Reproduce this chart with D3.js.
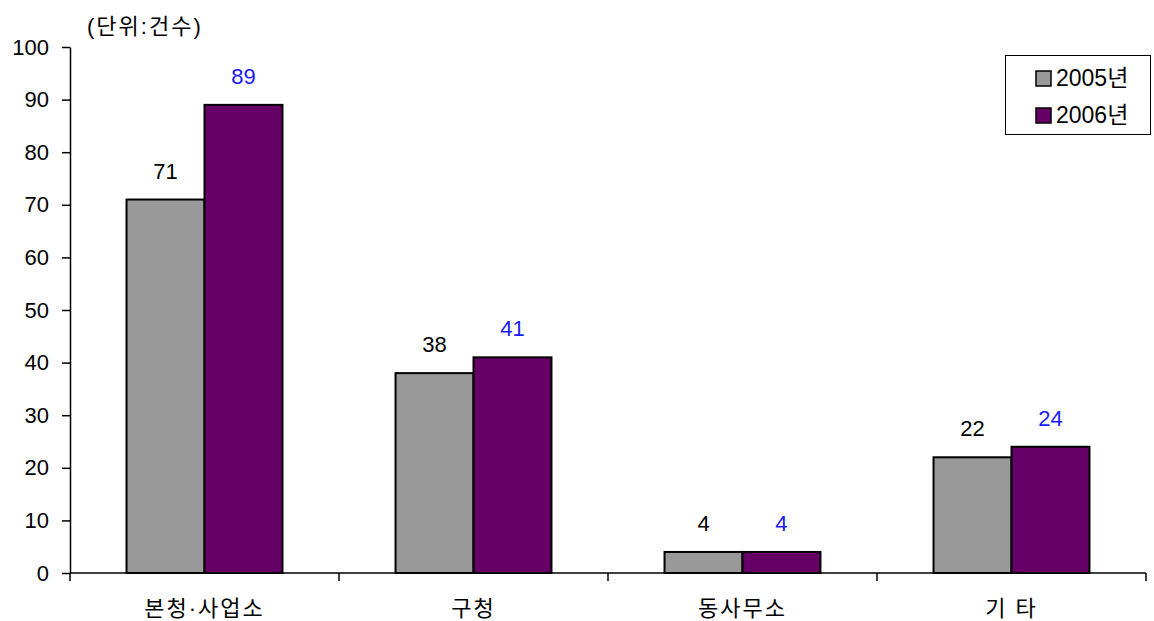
<!DOCTYPE html>
<html>
<head>
<meta charset="utf-8">
<script src="https://cdn.jsdelivr.net/npm/d3@7"></script>
<style>
  body { margin: 0; background: #fff; }
  svg { display: block; font-family: "Liberation Sans", Arial, "Noto Sans CJK KR", sans-serif; }
</style>
</head>
<body>
<svg id="chart" width="1154" height="621"></svg>
<script>
// Complaint counts by office, 2005 vs 2006
const categories = ["본청·사업소", "구청", "동사무소", "기 타"];
const series2005 = [71, 38, 4, 22];
const series2006 = [89, 41, 4, 24];
const seriesNames = ["2005년", "2006년"];
const yTicks = [0, 10, 20, 30, 40, 50, 60, 70, 80, 90, 100];

const colors = ["#999999", "#660066"];
const labelColors = ["#000000", "#1a1aff"];

const svg = d3.select("#chart");
const plotLeft = 70, plotRight = 1146, plotTop = 47, plotBottom = 573;

const x = d3.scaleBand().domain(categories).range([plotLeft, plotRight]).paddingInner(0).paddingOuter(0);
const x1 = d3.scaleBand().domain([0, 1]).range([0, x.bandwidth()]).paddingOuter(0.725).paddingInner(0);
const y = d3.scaleLinear().domain([0, 100]).range([plotBottom, plotTop]);

// Latin glyphs (digits, middle dot) from Liberation, Hangul falls through to Noto CJK
const fontMixed = '"Liberation Sans", Arial, "Noto Sans CJK KR", sans-serif';
const fontLatin = '"Liberation Sans", Arial, sans-serif';

// Y axis
const yAxis = svg.append("g").attr("transform", `translate(${plotLeft},0)`)
  .call(d3.axisLeft(y).tickValues(yTicks).tickSize(8).tickPadding(13).tickSizeOuter(0));
yAxis.select(".domain").attr("stroke", "#000").attr("stroke-width", 1.5);
yAxis.selectAll(".tick line").attr("stroke", "#000").attr("stroke-width", 1.5);
yAxis.selectAll(".tick text").attr("font-size", 22).attr("fill", "#000")
  .attr("font-family", fontLatin);

// Unit caption
svg.append("text").attr("x", 87).attr("y", 34).attr("font-size", 22)
  .attr("letter-spacing", 2)
  .attr("font-family", fontMixed).attr("fill", "#000").text("(단위:건수)");

const data = categories.map((c, i) => ({ cat: c, vals: [series2005[i], series2006[i]] }));

const groups = svg.append("g").selectAll("g").data(data).join("g")
  .attr("transform", d => `translate(${x(d.cat)},0)`);

groups.selectAll("rect").data(d => d.vals.map((v, k) => ({ v, k }))).join("rect")
  .attr("x", d => x1(d.k))
  .attr("y", d => y(d.v))
  .attr("width", x1.bandwidth())
  .attr("height", d => y(0) - y(d.v))
  .attr("fill", d => colors[d.k])
  .attr("stroke", "#000")
  .attr("stroke-width", 2);

groups.selectAll("text.val").data(d => d.vals.map((v, k) => ({ v, k }))).join("text")
  .attr("class", "val")
  .attr("x", d => x1(d.k) + x1.bandwidth() / 2)
  .attr("y", d => y(d.v) - 21)
  .attr("text-anchor", "middle")
  .attr("font-size", 22)
  .attr("font-family", fontLatin)
  .attr("fill", d => labelColors[d.k])
  .text(d => d.v);

// X axis
const xAxisLine = svg.append("g");
xAxisLine.append("line").attr("x1", plotLeft).attr("x2", plotRight).attr("y1", plotBottom).attr("y2", plotBottom)
  .attr("stroke", "#000").attr("stroke-width", 1.5);
const edges = categories.map(c => x(c)).concat([plotRight]);
xAxisLine.selectAll("line.tk").data(edges).join("line").attr("class", "tk")
  .attr("x1", d => d).attr("x2", d => d).attr("y1", plotBottom).attr("y2", plotBottom + 8)
  .attr("stroke", "#000").attr("stroke-width", 1.5);
xAxisLine.selectAll("text").data(categories).join("text")
  .attr("x", d => x(d) + x.bandwidth() / 2)
  .attr("y", 616)
  .attr("text-anchor", "middle")
  .attr("font-size", 22)
  .attr("letter-spacing", 2)
  .attr("font-family", fontMixed)
  .attr("fill", "#000")
  .text(d => d);

// Legend
const legend = svg.append("g");
legend.append("rect").attr("x", 1005.5).attr("y", 55.5).attr("width", 145).attr("height", 79)
  .attr("fill", "#fff").attr("stroke", "#000").attr("stroke-width", 1);
seriesNames.forEach((name, i) => {
  const yy = 78 + i * 37;
  legend.append("rect").attr("x", 1036).attr("y", yy - 7).attr("width", 15).attr("height", 15)
    .attr("fill", colors[i]).attr("stroke", "#000").attr("stroke-width", 1.5);
  legend.append("text").attr("x", 1056).attr("y", yy + 8).attr("font-size", 23)
    .attr("font-family", fontMixed)
    .attr("fill", "#000").text(name);
});
</script>
</body>
</html>
